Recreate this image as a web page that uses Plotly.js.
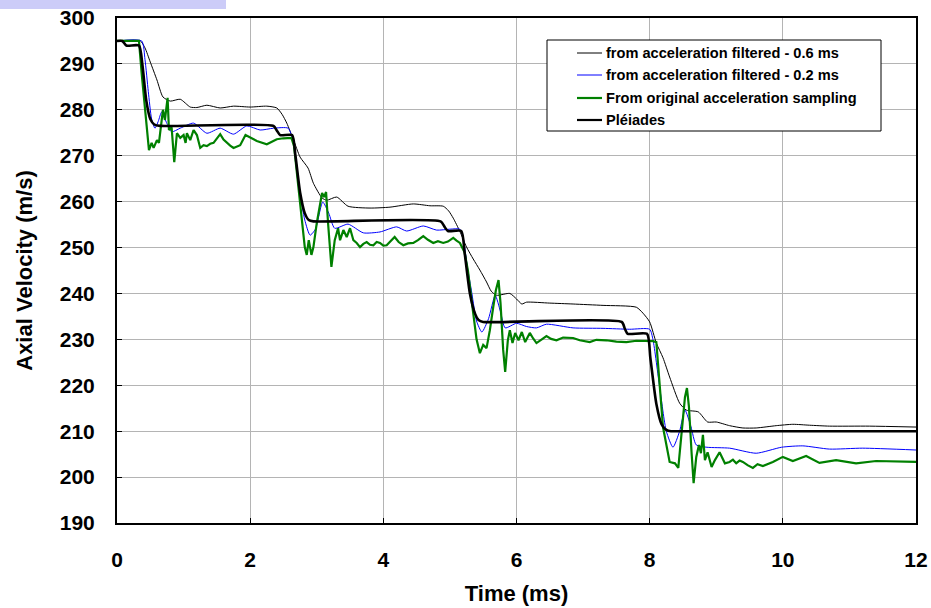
<!DOCTYPE html>
<html>
<head>
<meta charset="utf-8">
<script src="https://cdn.plot.ly/plotly-3.0.1.min.js"></script>
<style>
  html, body { margin: 0; padding: 0; background: #fff; }
  #chart { width: 931px; height: 608px; }
</style>
</head>
<body>
<div id="chart"></div>
<script>
// ---- Data ----
const seriesNames = [
  "from acceleration filtered - 0.6 ms",
  "from acceleration filtered - 0.2 ms",
  "From original acceleration sampling",
  "Pléiades"
];

// from acceleration filtered - 0.6 ms
const t06 = [0, 0.35, 0.42, 0.5, 0.6, 0.69, 0.8, 0.95, 1.1, 1.2, 1.35, 1.55, 1.75, 2.0, 2.25, 2.4, 2.48, 2.55, 2.65, 2.75, 2.87, 2.95, 3.08, 3.15, 3.3, 3.47, 3.8, 4.1, 4.45, 4.7, 4.9, 4.98, 5.05, 5.15, 5.25, 5.35, 5.45, 5.55, 5.62, 5.7, 5.9, 6.0, 6.08, 6.15, 6.5, 6.85, 7.3, 7.8, 7.9, 8.0, 8.1, 8.2, 8.3, 8.45, 8.55, 8.73, 8.87, 9.0, 9.2, 9.4, 9.6, 9.9, 10.15, 10.4, 10.7, 11.3, 12];
const v06 = [295, 295, 293.5, 290.4, 286.5, 282.8, 281.9, 282.3, 280.6, 280.5, 281, 280.4, 280.8, 280.6, 280.8, 280.4, 279, 277.1, 273.5, 269.7, 267.3, 264, 260.8, 260.3, 261, 259, 258.6, 258.8, 259.5, 259.1, 259, 258, 256.4, 253.5, 250.1, 247.5, 245.1, 242.5, 240.5, 239.6, 240, 238.8, 237.7, 238.1, 237.9, 237.7, 237.4, 237, 235.7, 233.8, 229.2, 226, 221.8, 216.1, 214.6, 214.2, 212, 212, 211.2, 210.7, 210.7, 211.2, 211.5, 211.3, 211.1, 211.1, 210.9];

// from acceleration filtered - 0.2 ms
const t02 = [0, 0.37, 0.42, 0.47, 0.52, 0.57, 0.62, 0.67, 0.75, 0.82, 0.95, 1.15, 1.35, 1.55, 1.75, 1.95, 2.15, 2.35, 2.57, 2.63, 2.68, 2.75, 2.82, 2.9, 2.98, 3.09, 3.18, 3.27, 3.47, 3.7, 3.95, 4.2, 4.35, 4.6, 4.8, 5.0, 5.15, 5.2, 5.26, 5.33, 5.4, 5.48, 5.58, 5.68, 5.76, 5.83, 6.0, 6.15, 6.3, 6.45, 6.85, 7.3, 7.7, 8.0, 8.05, 8.15, 8.25, 8.35, 8.45, 8.53, 8.62, 8.7, 8.86, 9.2, 9.6, 9.98, 10.3, 10.7, 11.2, 12];
const v02 = [295, 295, 291, 284, 278, 276, 277.5, 279.5, 277, 275.2, 276, 277.1, 274.9, 276, 274.7, 276.5, 275.6, 276, 276, 274, 270, 262, 256, 252.7, 254, 259.9, 257.5, 254.2, 255.1, 253.2, 253.4, 254.5, 253.6, 254.7, 253.8, 254, 254, 252, 246, 240, 234, 231.6, 234.5, 239.6, 236, 232.5, 233.5, 232.8, 232.5, 233.3, 232.5, 232.4, 232.2, 232.2, 229.9, 219.6, 210, 206.5, 210, 214.6, 211, 207, 206.5, 206.3, 205.2, 206.5, 206.8, 206.1, 206.3, 205.9];

// From original acceleration sampling
const tOrig = [0, 0.33, 0.37, 0.42, 0.48, 0.52, 0.55, 0.6, 0.63, 0.69, 0.72, 0.76, 0.78, 0.82, 0.86, 0.9, 0.95, 1.0, 1.03, 1.05, 1.1, 1.15, 1.2, 1.25, 1.3, 1.35, 1.4, 1.45, 1.5, 1.55, 1.6, 1.65, 1.7, 1.75, 1.8, 1.85, 1.93, 2.0, 2.1, 2.25, 2.4, 2.5, 2.62, 2.66, 2.7, 2.75, 2.82, 2.85, 2.88, 2.92, 2.95, 3.0, 3.08, 3.11, 3.14, 3.17, 3.22, 3.27, 3.32, 3.35, 3.4, 3.45, 3.5, 3.55, 3.6, 3.65, 3.7, 3.75, 3.8, 3.85, 3.9, 3.95, 4.0, 4.05, 4.1, 4.17, 4.23, 4.3, 4.37, 4.45, 4.52, 4.6, 4.67, 4.75, 4.82, 4.9, 4.97, 5.05, 5.1, 5.15, 5.22, 5.27, 5.33, 5.4, 5.45, 5.5, 5.55, 5.6, 5.65, 5.69, 5.73, 5.76, 5.8, 5.83, 5.87, 5.9, 5.94, 5.98, 6.03, 6.08, 6.13, 6.2, 6.25, 6.3, 6.38, 6.45, 6.52, 6.6, 6.7, 6.85, 6.95, 7.1, 7.2, 7.35, 7.5, 7.65, 7.8, 8.05, 8.1, 8.15, 8.2, 8.3, 8.38, 8.43, 8.48, 8.53, 8.56, 8.59, 8.63, 8.66, 8.7, 8.74, 8.77, 8.8, 8.83, 8.87, 8.93, 8.98, 9.05, 9.13, 9.2, 9.25, 9.3, 9.35, 9.4, 9.47, 9.55, 9.62, 9.7, 9.85, 10.0, 10.15, 10.35, 10.55, 10.8, 11.1, 11.4, 12];
const vOrig = [295, 295, 288, 280, 271.2, 272.8, 271.7, 273.4, 272.8, 280, 277.8, 282.6, 275.6, 276.2, 268.6, 274.9, 273.9, 274.5, 272.8, 274.9, 273.4, 275.6, 274.5, 271.7, 272.3, 272.1, 272.6, 272.8, 273.8, 274.7, 273.5, 272.8, 272.2, 271.7, 272.0, 272.3, 274.5, 273.9, 273.2, 272.5, 273.6, 273.8, 273.9, 272, 266.2, 258.8, 250.1, 248.4, 251.6, 248.4, 250.1, 255.3, 261.9, 261, 262.1, 255.3, 245.8, 251.6, 254.2, 251.6, 253.8, 252.3, 254.2, 251.6, 251.0, 250.1, 250.8, 251.2, 250.6, 250.5, 251.2, 251, 250.4, 250.5, 251.3, 252.3, 251.2, 250.5, 250.9, 251, 251.6, 252.5, 251.7, 251, 251.4, 251, 251.3, 252.1, 251.5, 251, 249, 245, 238, 230, 227, 228.8, 228.1, 232, 237, 240.7, 242.9, 237.9, 227.7, 222.9, 229.8, 232, 229.2, 231.4, 229.8, 231.6, 229.4, 231.4, 230.2, 229.2, 230.0, 230.7, 230.1, 229.8, 230.4, 230.3, 229.8, 229.4, 229.9, 229.8, 229.5, 229.4, 229.7, 229.6, 229.4, 220, 210.9, 203.3, 203, 202, 210.2, 217.4, 219.4, 215.3, 205.2, 198.7, 204.4, 207, 205.2, 209.2, 203.7, 205.4, 202.2, 203.7, 205.4, 203, 203.3, 203.8, 203, 203.6, 203.3, 202.6, 202, 202.8, 202.4, 203.3, 204.4, 203.5, 204.6, 203.1, 203.7, 203, 203.5, 203.3];

// Pléiades
const tPl = [0, 0.08, 0.14, 0.33, 0.38, 0.44, 0.5, 0.56, 0.65, 2.35, 2.4, 2.45, 2.63, 2.68, 2.75, 2.82, 2.88, 2.95, 4.86, 4.92, 4.97, 5.17, 5.22, 5.3, 5.38, 5.43, 5.5, 7.58, 7.63, 7.67, 7.96, 8.01, 8.1, 8.18, 8.25, 8.32, 8.4, 12];
const vPl = [295, 295, 294, 294, 290, 282, 278, 276.8, 276.5, 276.5, 275.5, 274.5, 274.5, 270, 262, 257.5, 256, 255.7, 255.7, 254.5, 253.6, 253.6, 249, 240, 235.5, 234.2, 233.8, 233.8, 232.2, 231.2, 231.2, 226, 216, 211.5, 210.3, 210, 210, 210];

const xTickVals = [0, 2, 4, 6, 8, 10, 12];
const yTickVals = [190, 200, 210, 220, 230, 240, 250, 260, 270, 280, 290, 300];

// ---- Styling ----
const FONT = "Liberation Sans, Arial, Helvetica, sans-serif";
const styles = [
  { color: "#000000", width: 1, shape: "spline" },
  { color: "#0000ff", width: 1, shape: "spline" },
  { color: "#008000", width: 2.2, shape: "linear" },
  { color: "#000000", width: 2.6, shape: "spline" }
];
const xs = [t06, t02, tOrig, tPl];
const ys = [v06, v02, vOrig, vPl];

const traces = seriesNames.map((n, i) => ({
  type: "scatter", mode: "lines", name: n,
  x: xs[i], y: ys[i],
  line: { color: styles[i].color, width: styles[i].width, shape: styles[i].shape, smoothing: 0.6 },
  showlegend: false, hoverinfo: "x+y+name"
}));

// plot area in pixels
const L = 117, R = 916, T = 18, B = 523;
const px2x = px => (px - L) / (R - L);
const py2y = py => 1 - (py - T) / (B - T);

const shapes = [
  { type: "rect", xref: "paper", yref: "paper", x0: px2x(0), x1: px2x(226), y0: py2y(9), y1: py2y(0),
    fillcolor: "#ccccf8", line: { width: 0 }, layer: "above" },
  { type: "rect", xref: "paper", yref: "paper", x0: px2x(547), x1: px2x(881), y0: py2y(131), y1: py2y(40),
    fillcolor: "#ffffff", line: { color: "#000000", width: 1 }, layer: "above" }
];
const annotations = [];
const legendY = [53, 75, 98, 120];
seriesNames.forEach((n, i) => {
  shapes.push({ type: "line", xref: "paper", yref: "paper", x0: px2x(577), x1: px2x(602),
    y0: py2y(legendY[i]), y1: py2y(legendY[i]),
    line: { color: styles[i].color, width: Math.min(styles[i].width, 2.2) }, layer: "above" });
  annotations.push({ xref: "paper", yref: "paper", x: px2x(604), y: py2y(legendY[i]),
    xanchor: "left", yanchor: "middle", showarrow: false, text: n,
    font: { family: FONT, size: 14.6, color: "#000", weight: "bold" } });
});

const layout = {
  width: 931, height: 608,
  margin: { l: L, r: 931 - R, t: T, b: 608 - B, pad: 0 },
  paper_bgcolor: "#ffffff", plot_bgcolor: "#ffffff",
  showlegend: false,
  font: { family: FONT, color: "#000" },
  xaxis: {
    range: [0, 12], tickvals: xTickVals, ticktext: xTickVals.map(String),
    showgrid: true, gridcolor: "#b4b4b4", gridwidth: 1,
    showline: true, linecolor: "#000", linewidth: 2, mirror: true,
    ticks: "inside", ticklen: 5, tickcolor: "#000", tickwidth: 1,
    ticklabelstandoff: 17,
    tickfont: { family: FONT, size: 21, weight: "bold", color: "#000" },
    zeroline: false,
    title: { text: "Time (ms)", font: { family: FONT, size: 22, weight: "bold", color: "#000" }, standoff: 15 }
  },
  yaxis: {
    range: [190, 300], tickvals: yTickVals, ticktext: yTickVals.map(String),
    showgrid: true, gridcolor: "#b4b4b4", gridwidth: 1,
    showline: true, linecolor: "#000", linewidth: 2, mirror: true,
    ticks: "inside", ticklen: 5, tickcolor: "#000", tickwidth: 1,
    ticklabelstandoff: 16,
    tickfont: { family: FONT, size: 21, weight: "bold", color: "#000" },
    zeroline: false,
    title: { text: "Axial Velocity (m/s)", font: { family: FONT, size: 22, weight: "bold", color: "#000" }, standoff: 21 }
  },
  shapes: shapes,
  annotations: annotations
};

Plotly.newPlot("chart", traces, layout, { displayModeBar: false, staticPlot: true });
</script>
</body>
</html>
